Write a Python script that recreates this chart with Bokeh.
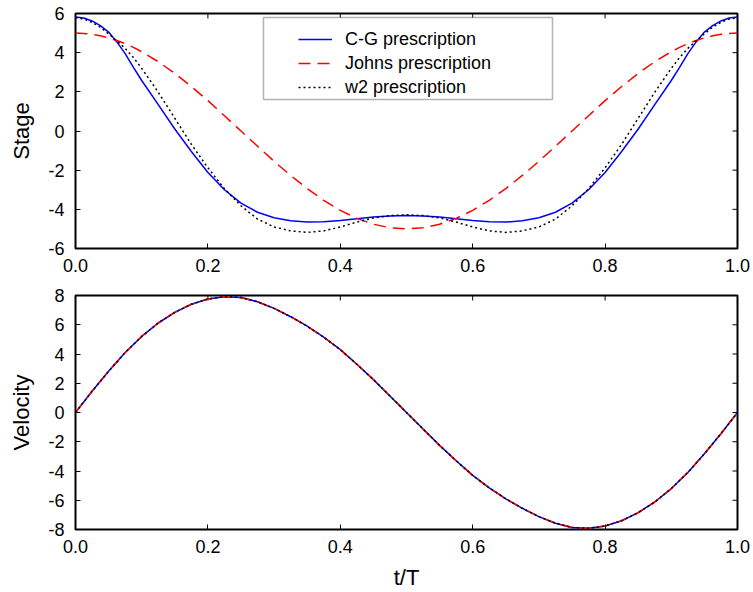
from bokeh.plotting import figure
from bokeh.models import (Range1d, FixedTicker, Legend, LegendItem,
                          BoxAnnotation, PrintfTickFormatter)
from bokeh.layouts import column
from bokeh.embed import file_html
from bokeh.resources import INLINE

# ---------------- data ----------------
t_stage = [0.0, 0.0125, 0.025, 0.0375, 0.05, 0.0625, 0.075, 0.0875, 0.1,
           0.125, 0.15, 0.175, 0.2, 0.225, 0.25, 0.275, 0.3, 0.325, 0.35,
           0.375, 0.4, 0.425, 0.45, 0.475, 0.5, 0.525, 0.55, 0.575, 0.6,
           0.625, 0.65, 0.675, 0.7, 0.725, 0.75, 0.775, 0.8, 0.825, 0.85,
           0.875, 0.9, 0.9125, 0.925, 0.9375, 0.95, 0.9625, 0.975, 0.9875, 1.0]

stage_cg = [5.82, 5.77, 5.62, 5.38, 5.05, 4.55, 3.95, 3.25, 2.58,
            1.35, 0.1, -1.05, -2.12, -3.0, -3.68, -4.15, -4.43, -4.58, -4.65,
            -4.63, -4.57, -4.48, -4.39, -4.34, -4.32, -4.34, -4.39, -4.48, -4.57,
            -4.63, -4.65, -4.58, -4.43, -4.15, -3.68, -3.0, -2.12, -1.05, 0.1,
            1.35, 2.58, 3.25, 3.95, 4.55, 5.05, 5.38, 5.62, 5.77, 5.82]

stage_johns = [5.0, 4.98, 4.94, 4.86, 4.76, 4.62, 4.46, 4.27, 4.05,
               3.54, 2.94, 2.27, 1.55, 0.78, 0.0, -0.78, -1.55, -2.27, -2.94,
               -3.54, -4.05, -4.46, -4.76, -4.94, -5.0, -4.94, -4.76, -4.46, -4.05,
               -3.54, -2.94, -2.27, -1.55, -0.78, 0.0, 0.78, 1.55, 2.27, 2.94,
               3.54, 4.05, 4.27, 4.46, 4.62, 4.76, 4.86, 4.94, 4.98, 5.0]

stage_w2 = [5.78, 5.72, 5.55, 5.3, 4.96, 4.6, 4.22, 3.75, 3.2,
            1.98, 0.65, -0.68, -1.88, -2.95, -3.82, -4.5, -4.9, -5.1, -5.18,
            -5.1, -4.9, -4.65, -4.44, -4.32, -4.28, -4.32, -4.44, -4.65, -4.9,
            -5.1, -5.18, -5.1, -4.9, -4.5, -3.82, -2.95, -1.88, -0.68, 0.65,
            1.98, 3.2, 3.75, 4.22, 4.6, 4.96, 5.3, 5.55, 5.72, 5.78]

t = [0.0, 0.025, 0.05, 0.075, 0.1, 0.125, 0.15, 0.175, 0.2, 0.225,
     0.25, 0.275, 0.3, 0.325, 0.35, 0.375, 0.4, 0.425, 0.45, 0.475,
     0.5, 0.525, 0.55, 0.575, 0.6, 0.625, 0.65, 0.675, 0.7, 0.725,
     0.75, 0.775, 0.8, 0.825, 0.85, 0.875, 0.9, 0.925, 0.95, 0.975, 1.0]

velocity_cg = [0.0, 1.45, 2.82, 4.1, 5.2, 6.12, 6.85, 7.4, 7.76, 7.92,
               7.86, 7.57, 7.12, 6.55, 5.9, 5.15, 4.3, 3.3, 2.25, 1.13,
               0.0, -1.13, -2.25, -3.3, -4.3, -5.15, -5.9, -6.55, -7.12, -7.57,
               -7.86, -7.92, -7.76, -7.4, -6.85, -6.12, -5.2, -4.1, -2.82, -1.45, 0.0]
velocity_johns = list(velocity_cg)
velocity_w2 = list(velocity_cg)

series_names = ["C-G prescription", "Johns prescription", "w2 prescription"]

x_ticks = [0.0, 0.2, 0.4, 0.6, 0.8, 1.0]
x_tick_labels = ["0.0", "0.2", "0.4", "0.6", "0.8", "1.0"]
stage_ticks = [-6, -4, -2, 0, 2, 4, 6]
stage_tick_labels = ["-6", "-4", "-2", "0", "2", "4", "6"]
velocity_ticks = [-8, -6, -4, -2, 0, 2, 4, 6, 8]
velocity_tick_labels = ["-8", "-6", "-4", "-2", "0", "2", "4", "6", "8"]

# ---------------- styling ----------------
FONT = "Liberation Sans"
TICK_SIZE = "18px"
LABEL_SIZE = "22px"
FIG_W = 752
BORDER_L = 75
BORDER_R = 15
TICK_PX = 5
styles = [
    dict(line_color="#0000ff", line_width=1.5),
    dict(line_color="#ff0000", line_width=1.5, line_dash="12 7"),
    dict(line_color="#000000", line_width=1.5, line_dash="2 3"),
]


def style_axis(ax, ticks, labels, fmt):
    ax.ticker = FixedTicker(ticks=ticks)
    ax.formatter = PrintfTickFormatter(format=fmt)
    ax.major_label_overrides = dict(zip(ticks, labels))
    ax.axis_line_color = None
    ax.major_tick_in = TICK_PX
    ax.major_tick_out = 0
    ax.major_tick_line_color = "black"
    ax.major_tick_line_width = 1
    ax.minor_tick_line_color = None
    ax.major_label_text_font = FONT
    ax.major_label_text_color = "black"
    ax.major_label_text_font_size = TICK_SIZE
    ax.axis_label_text_font = FONT
    ax.axis_label_text_font_size = LABEL_SIZE
    ax.axis_label_text_font_style = "normal"
    ax.axis_label_text_color = "black"


def make_fig(height, yr, yticks, ylabels, ylab, xlab, b_top, b_bottom):
    p = figure(width=FIG_W, height=height, output_backend="svg", toolbar_location=None,
               x_range=Range1d(0, 1), y_range=Range1d(*yr),
               min_border_left=BORDER_L, min_border_right=BORDER_R,
               min_border_top=b_top, min_border_bottom=b_bottom)
    p.grid.visible = False
    p.outline_line_color = "black"
    p.outline_line_width = 2
    p.background_fill_color = "white"
    p.border_fill_color = "white"
    style_axis(p.xaxis[0], x_ticks, x_tick_labels, "%.1f")
    style_axis(p.yaxis[0], yticks, ylabels, "%d")
    p.xaxis[0].major_label_standoff = 10
    p.yaxis[0].major_label_standoff = 11
    p.yaxis[0].axis_label = ylab
    p.yaxis[0].axis_label_standoff = 11
    if xlab:
        p.xaxis[0].axis_label = xlab
        p.xaxis[0].axis_label_standoff = 9
    # mirrored inward ticks on the top and right frame edges
    frame_w = FIG_W - BORDER_L - BORDER_R
    frame_h = height - b_top - b_bottom
    dy = TICK_PX * (yr[1] - yr[0]) / frame_h
    dx = TICK_PX * 1.0 / frame_w
    p.segment(x0=x_ticks, y0=[yr[1]] * len(x_ticks),
              x1=x_ticks, y1=[yr[1] - dy] * len(x_ticks),
              line_color="black", line_width=1)
    p.segment(x0=[1.0] * len(yticks), y0=yticks,
              x1=[1.0 - dx] * len(yticks), y1=yticks,
              line_color="black", line_width=1)
    return p


# ---------------- top panel: stage ----------------
p1 = make_fig(285, (-6, 6), stage_ticks, stage_tick_labels, "Stage", None, 13, 37)
renderers = []
for ys, st in zip([stage_cg, stage_johns, stage_w2], styles):
    renderers.append(p1.line(t_stage, ys, **st))

box = BoxAnnotation(left=0.284, right=0.7205, top=5.8, bottom=1.61,
                    fill_color="white", fill_alpha=1.0,
                    line_color="black", line_width=1.5)
p1.add_layout(box)

legend = Legend(items=[LegendItem(label=n, renderers=[r]) for n, r in zip(series_names, renderers)],
                location=(223, 149), padding=5, spacing=0,
                glyph_width=34, glyph_height=24, label_height=24, label_standoff=13,
                label_text_font=FONT, label_text_font_size="18px", label_text_color="black",
                border_line_color=None, background_fill_alpha=0.0)
p1.add_layout(legend)

# ---------------- bottom panel: velocity ----------------
p2 = make_fig(307, (-8, 8), velocity_ticks, velocity_tick_labels, "Velocity", "t/T", 10, 63)
for ys, st in zip([velocity_cg, velocity_johns, velocity_w2], styles):
    p2.line(t, ys, **st)

layout = column(p1, p2, spacing=0)
open("out.html", "w").write(file_html(layout, INLINE))
